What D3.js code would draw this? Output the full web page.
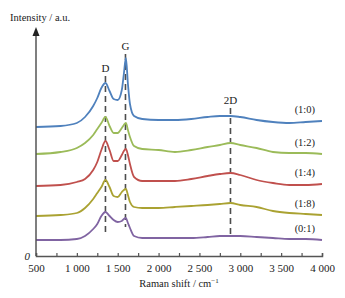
<!DOCTYPE html>
<html>
<head>
<meta charset="utf-8">
<script src="https://cdn.jsdelivr.net/npm/d3@7"></script>
<style>
  body { margin: 0; background: #fff; }
  text { font-family: "Liberation Serif", "Times New Roman", serif; fill: #222; }
</style>
</head>
<body>
<svg id="chart"></svg>
<script>
const wavenumbers = [500, 800, 1000, 1100, 1200, 1250, 1300, 1350, 1400, 1450, 1500, 1550, 1575, 1600, 1625, 1650, 1700, 1800, 2000, 2200, 2400, 2600, 2750, 2880, 3000, 3200, 3400, 3600, 3800, 4000]

const sampleNames = ["(1:0)", "(1:2)", "(1:4)", "(1:8)", "(0:1)"]

// offset intensities, a.u.
const s10 = [129, 130, 133, 139, 150, 158, 168, 173, 165, 157, 156, 166, 182, 198, 172, 152, 140, 137, 136, 136, 137, 139, 140, 140, 139, 136, 134, 133, 134, 135]
const s12 = [102, 104, 108, 113, 121, 127, 133, 139, 130, 123, 123, 128, 131, 133, 126, 119, 110, 107, 106, 104, 106, 109, 111, 113, 111, 108, 104, 103, 103, 102]
const s14 = [70, 71, 74, 77, 86, 94, 106, 115, 106, 95, 95, 101, 105, 107, 101, 92, 79, 75, 75, 75, 77, 80, 82, 83, 81, 76, 73, 71, 71, 72]
const s18 = [40, 41, 43, 48, 57, 63, 69, 76, 69, 60, 59, 64, 66, 67, 61, 54, 49, 48, 48, 49, 50, 51, 52, 53, 51, 49, 45, 43, 42, 41]
const s01 = [16, 16, 17, 20, 27, 32, 40, 44, 40, 36, 34, 35, 37, 38, 33, 28, 20, 18, 18, 18, 18, 19, 20, 20, 20, 19, 18, 17, 17, 16]

const peakNames = ["D", "G", "2D"]
const peakPositions = [1350, 1595, 2880]

const xTicks = [500, 750, 1000, 1250, 1500, 1750, 2000, 2250, 2500, 2750, 3000, 3250, 3500, 3750, 4000]

const width = 345, height = 298
const colors = ["#4f81bd", "#9bbb59", "#c0504d", "#aaa232", "#8064a2"]
const seriesList = [s10, s12, s14, s18, s01]

const svg = d3.select("#chart").attr("width", width).attr("height", height)

const x = d3.scaleLinear().domain([500, 4000]).range([36, 322])
const y = d3.scaleLinear().domain([0, 228]).range([256, 28])

// dashed peak markers: [top, bottom] in intensity units
const peakSpans = [[180, 21], [202, 29], [148, 19]]
const dashes = svg.append("g").attr("class", "peaks")
peakPositions.forEach((p, i) => {
  dashes.append("line")
    .attr("x1", x(p)).attr("x2", x(p))
    .attr("y1", y(peakSpans[i][0])).attr("y2", y(peakSpans[i][1]))
    .attr("stroke", "#4d4d4d")
    .attr("stroke-width", 1.6)
    .attr("stroke-dasharray", "6,4")
  dashes.append("text")
    .attr("x", x(p))
    .attr("y", y(peakSpans[i][0]) - 4)
    .attr("text-anchor", "middle")
    .style("font-size", "11px")
    .text(peakNames[i])
})

const line = d3.line()
  .x((d, i) => x(wavenumbers[i]))
  .y((d) => y(d))
  .curve(d3.curveMonotoneX)

const curves = svg.append("g").attr("class", "spectra")
seriesList.forEach((s, k) => {
  curves.append("path")
    .attr("d", line(s))
    .attr("fill", "none")
    .attr("stroke", colors[k])
    .attr("stroke-width", 1.8)
  curves.append("text")
    .attr("x", x(3790))
    .attr("y", y(s[s.length - 1]) - 8)
    .attr("text-anchor", "middle")
    .style("font-size", "10.5px")
    .text(sampleNames[k])
})

// x axis with inward ticks
const xAxis = d3.axisBottom(x)
  .tickValues(xTicks)
  .tickSize(-3)
  .tickPadding(8)
  .tickFormat((d) => (d % 500 === 0 ? (d >= 1000 ? d3.format(",")(d).replace(",", " ") : d) : ""))

const gx = svg.append("g").attr("transform", `translate(0,${y(0)})`).call(xAxis)
gx.select(".domain").attr("stroke", "#555").attr("stroke-width", 1.5)
gx.selectAll(".tick line").attr("stroke", "#555").attr("stroke-width", 1.2)
gx.selectAll(".tick text")
  .style("font-size", "11px")
  .style("font-family", "'Liberation Serif', serif")
  .attr("fill", "#222")

svg.append("text")
  .attr("x", (x(500) + x(4000)) / 2)
  .attr("y", 287)
  .attr("text-anchor", "middle")
  .style("font-size", "10.5px")
  .html("Raman shift / cm<tspan dy='-4' font-size='7px'>−1</tspan>")

// y axis arrow
svg.append("line")
  .attr("x1", x(500)).attr("x2", x(500))
  .attr("y1", y(0)).attr("y2", y(225))
  .attr("stroke", "#555").attr("stroke-width", 1.5)
svg.append("path")
  .attr("d", `M${x(500)},${y(229)} L${x(500) - 3.5},${y(220)} L${x(500) + 3.5},${y(220)} Z`)
  .attr("fill", "#222")

svg.append("text")
  .attr("x", 10)
  .attr("y", 21)
  .style("font-size", "10.5px")
  .text("Intensity / a.u.")

svg.append("text")
  .attr("x", x(500) - 6)
  .attr("y", y(0) + 4)
  .attr("text-anchor", "end")
  .style("font-size", "11px")
  .style("font-style", "italic")
  .text("0")
</script>
</body>
</html>
